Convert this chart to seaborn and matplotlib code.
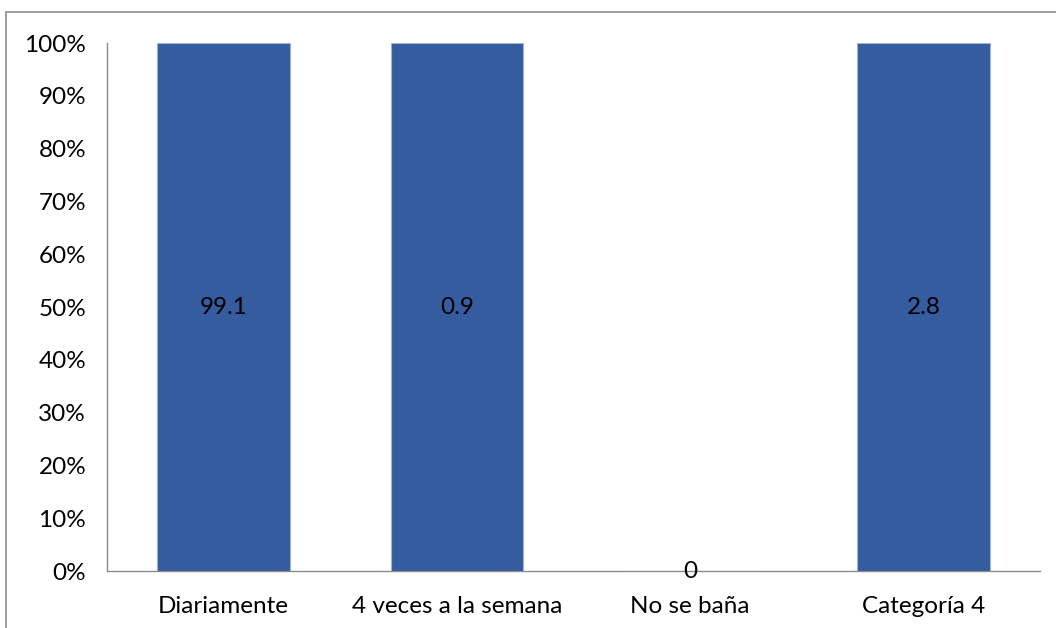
import matplotlib
matplotlib.use("Agg")
import matplotlib.pyplot as plt
import matplotlib.patches as mpatches
import seaborn as sns
import numpy as np
import pandas as pd

categories = ["Diariamente", "4 veces a la semana", "No se baña", "Categoría 4"]
values = [99.1, 0.9, 0, 2.8]
y_ticks = [0, 10, 20, 30, 40, 50, 60, 70, 80, 90, 100]

# single-series 100% stacked columns: each non-empty column fills the axis
vals = np.array(values, dtype=float)
share = np.where(vals > 0, 100.0, 0.0)
df = pd.DataFrame({"cat": categories, "share": share, "value": values})

sns.set_style("white")
plt.rcParams["font.family"] = ["Lato", "DejaVu Sans"]

fig = plt.figure(figsize=(10.56, 6.28), dpi=100)
ax = fig.add_axes([107 / 1056, 1 - 571 / 628, (1040 - 107) / 1056, (571 - 43) / 628])

sns.barplot(data=df, x="cat", y="share", color="#345C9F", saturation=1,
            width=0.567, edgecolor="#9DB3D9", linewidth=0.8, ax=ax)

ax.bar_label(ax.containers[0], labels=[f"{v:g}" for v in values],
             label_type="center", fontsize=17.5, color="#000000")

ax.set_ylim(0, 100)
ax.set_xlim(-0.5, len(categories) - 0.5)
ax.set_yticks(y_ticks)
ax.set_yticklabels([f"{t}%" for t in y_ticks])
ax.set_xlabel("")
ax.set_ylabel("")
ax.tick_params(axis="both", length=0, labelsize=17.5, colors="#000000")
ax.tick_params(axis="y", pad=15)
ax.tick_params(axis="x", pad=18)

for side in ["top", "right"]:
    ax.spines[side].set_visible(False)
for side in ["left", "bottom"]:
    ax.spines[side].set_color("#8C8C8C")
    ax.spines[side].set_linewidth(1.0)
ax.spines["bottom"].set_zorder(0.5)

# chart area frame
frame = mpatches.Rectangle((6 / 1056, -0.1), 1.2, 1 - 12 / 628 + 0.1,
                           transform=fig.transFigure, fill=False,
                           edgecolor="#8C8C8C", linewidth=1.2, clip_on=False)
fig.patches.append(frame)

fig.savefig("out.png", dpi=100, facecolor="white")
